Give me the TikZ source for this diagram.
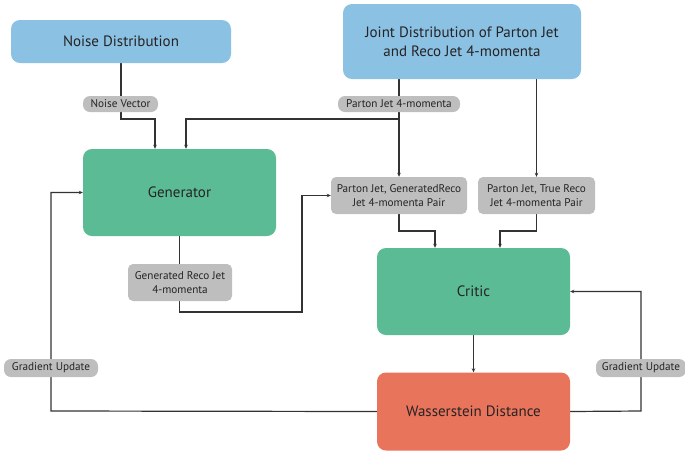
\documentclass[tikz,border=0pt]{standalone}
\usepackage{fontspec}
\setmainfont{PT Sans}
\usetikzlibrary{backgrounds,arrows.meta}
\definecolor{cblue}{HTML}{8BC1E3}
\definecolor{cgreen}{HTML}{5BBB95}
\definecolor{cred}{HTML}{E9745C}
\definecolor{cgray}{HTML}{BEBEBF}
\definecolor{ctext}{HTML}{262324}
\definecolor{cline}{HTML}{333333}
\begin{document}
\begin{tikzpicture}[x=1pt,y=-1pt,
  box/.style={rectangle,rounded corners=9pt,draw=none,text=ctext,font=\fontsize{15}{19}\selectfont,align=center,inner sep=0pt},
  lab/.style={rectangle,rounded corners=7pt,fill=cgray,text=ctext,font=\fontsize{11.2}{14}\selectfont,align=center,inner sep=0pt},
  conn/.style={draw=cline,line width=1.2pt},
  arr/.style={conn,-{Stealth[length=4pt,width=3.5pt]}}]
\useasboundingbox (0,0) rectangle (685,451);
% main boxes
\node[box,fill=cblue,minimum width=220pt,minimum height=43pt] (noise) at (121,41.5) {Noise Distribution};
\node[box,fill=cblue,minimum width=238pt,minimum height=75pt] (joint) at (462,41.5) {Joint Distribution of Parton Jet\\and Reco Jet 4-momenta};
\node[box,fill=cgreen,minimum width=193pt,minimum height=87pt] (gen) at (179.5,192.5) {Generator};
\node[box,fill=cgreen,minimum width=193pt,minimum height=87pt] (critic) at (473.5,291.5) {Critic};
\node[box,fill=cred,minimum width=193pt,minimum height=78pt] (wass) at (473.5,411.5) {Wasserstein Distance};
% labels
\node[lab,minimum width=75pt,minimum height=16pt] (nv) at (120.5,104) {Noise Vector};
\node[lab,minimum width=122pt,minimum height=16pt] (pj) at (399,104) {Parton Jet 4-momenta};
\node[lab,rounded corners=5pt,minimum width=136pt,minimum height=37pt] (pair1) at (399,195.5) {Parton Jet, GeneratedReco\\Jet 4-momenta Pair};
\node[lab,rounded corners=5pt,minimum width=117pt,minimum height=37pt] (pair2) at (536.5,195.5) {Parton Jet, True Reco\\Jet 4-momenta Pair};
\node[lab,rounded corners=5pt,minimum width=104pt,minimum height=37pt] (grj) at (180,282.5) {Generated Reco Jet\\4-momenta};
\node[lab,minimum width=94pt,minimum height=18pt] (gul) at (51,368) {Gradient Update};
\node[lab,minimum width=90pt,minimum height=18pt] (gur) at (641,368) {Gradient Update};
% coordinates
\coordinate (j1) at (155,119);
\coordinate (j2) at (399,119);
\coordinate (j3) at (186,119);
\coordinate (c1) at (302,312);
\coordinate (k1) at (399,231);
\coordinate (k2) at (435,231);
\coordinate (k3) at (536.5,231);
\coordinate (k4) at (500,231);
\coordinate (r1) at (641,411);
\coordinate (l1) at (51,411);
\begin{scope}[on background layer]
\draw[arr] (noise.south) |- (j1) -- (gen.north -| j1);
\draw[arr] (pair1.north |- joint.south) -- (pair1.north);
\draw[arr] (j2) -- (j3) -- (gen.north -| j3);
\draw[arr] (pair2.north |- joint.south) -- (pair2.north);
\draw[arr] (pair1.south) -- (k1) -- (k2) -- (critic.north -| k2);
\draw[arr] (pair2.south) -- (k3) -- (k4) -- (critic.north -| k4);
\draw[arr] (gen.south) |- (c1) |- (pair1.west);
\draw[arr] (critic.south) -- (wass.north);
\draw[arr] (wass.east) -- (r1) |- (critic.east);
\draw[arr] (wass.west) -- (l1) |- (gen.west);
\end{scope}
\end{tikzpicture}
\end{document}
